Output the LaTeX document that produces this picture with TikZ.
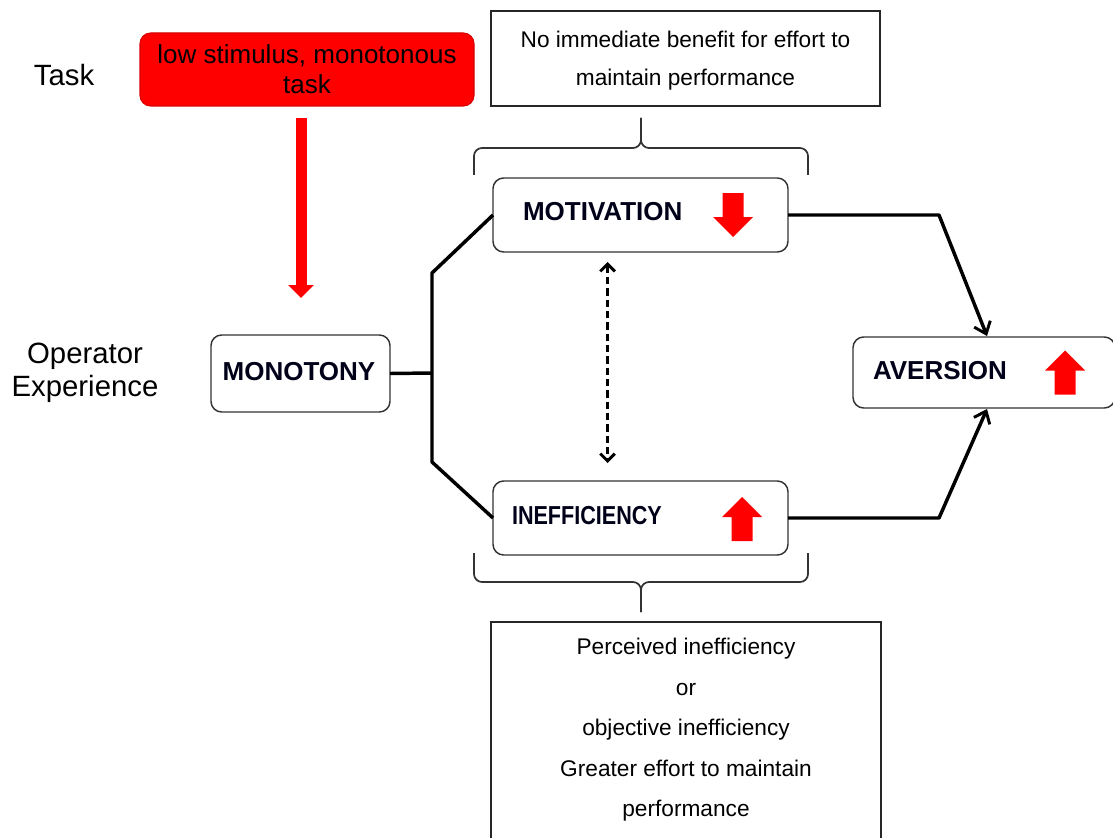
\documentclass[tikz,border=0pt]{standalone}
\usepackage{fontspec}
\setmainfont{Liberation Sans}
\usetikzlibrary{arrows.meta,calc}
\newcommand\pxu{0.75pt}

\tikzset{
  every node/.style={inner sep=0pt, outer sep=0pt},
  sidelabel/.style={font=\fontsize{22}{25}\selectfont, align=center},
  taskbox/.style={draw=red!85!black, line width=0.8pt, fill=red, rounded corners=8pt,
    minimum width=334*\pxu, minimum height=73*\pxu, align=center,
    font=\fontsize{19.5}{22.5}\selectfont},
  statebox/.style={draw=black!80, line width=1.1pt, rounded corners=8pt, fill=white},
  notebox/.style={draw=black!85, line width=1.1pt, fill=white},
  boldlabel/.style={font=\fontsize{19.5}{22}\selectfont\bfseries, text=black!90!blue},
  notetext/.style={font=\fontsize{17}{28.5}\selectfont, align=center},
  link/.style={line width=2.6pt, line join=round},
  flow/.style={link, -{Straight Barb[length=8pt,width=13pt,line width=2.2pt]}},
  mutual/.style={line width=2.6pt, dash pattern=on 5.5pt off 3pt,
    {Straight Barb[length=5.5pt,width=11pt,line width=2.2pt]}-{Straight Barb[length=5.5pt,width=11pt,line width=2.2pt]}},
  causal/.style={red, line width=8.25pt, -{Triangle[length=9.75pt,width=18.75pt]}},
  bracket/.style={draw=black!80, line width=1.3pt, rounded corners=6pt},
  blockup/.pic={\fill[red] (-10.5,22) -- (-10.5,-2) -- (-20,-2) -- (0,-22) -- (20,-2) -- (10.5,-2) -- (10.5,22) -- cycle;},
  blockdown/.pic={\fill[red] (-10.5,-22) -- (-10.5,2) -- (-20,2) -- (0,22) -- (20,2) -- (10.5,2) -- (10.5,-22) -- cycle;}
}

\begin{document}
\begin{tikzpicture}[x=0.75pt,y=-0.75pt]
\useasboundingbox (0,0) rectangle (1113,838);

% row labels
\node[sidelabel] (tasklbl) at (64,75) {Task};
\node[sidelabel] (explbl) at (85,373) {Operator\\Experience};

% task box and its effect
\node[taskbox] (task) at (307,69.5) {low stimulus, monotonous\\task};
\draw[causal] ($(task.south)+(-6,12)$) -- ++(0,180);

% note boxes
\node[notebox, minimum width=389*\pxu, minimum height=95*\pxu] (topnote) at (685.5,58.5) {};
\node[notetext] (toptext) at (685.5,61) {No immediate benefit for effort to\\maintain performance};
\node[notebox, minimum width=390*\pxu, minimum height=230*\pxu] (botnote) at (686,737) {};
\node[notetext, font=\fontsize{17}{30.4}\selectfont] (bottext) at (686,730)
  {Perceived inefficiency\\or\\objective inefficiency\\Greater effort to maintain\\performance};

% state boxes
\node[statebox, minimum width=179*\pxu, minimum height=77*\pxu] (mono) at (300.5,373.5) {};
\node[boldlabel] (monotxt) at (299,372) {MONOTONY};

\node[statebox, minimum width=295*\pxu, minimum height=74*\pxu] (mot) at (640.5,215) {};
\node[boldlabel, anchor=west] (mottxt) at (523,212) {MOTIVATION};
\pic at ($(mot.east)+(-55,0)$) {blockdown};

\node[statebox, minimum width=295*\pxu, minimum height=74*\pxu] (ineff) at (640.5,518) {};
\node[boldlabel, anchor=west] (inefftxt) at (512,516) {\scalebox{0.83}[1]{INEFFICIENCY}};
\pic at ($(ineff.east)+(-46,1)$) {blockup};

\node[statebox, minimum width=262*\pxu, minimum height=71*\pxu] (aver) at (984,372.5) {};
\node[boldlabel, anchor=west] (avertxt) at (873,371) {AVERSION};
\pic at ($(aver.center)+(81,0)$) {blockup};

% braces
\draw[bracket] (474,175) -- (474,148) -- (641,148) -- (641,118);
\draw[bracket] (808,175) -- (808,148) -- (641,148) -- (641,118);
\draw[bracket] (474,553) -- (474,582) -- (641,582) -- (641,612);
\draw[bracket] (808,553) -- (808,582) -- (641,582) -- (641,612);

% connectors
\coordinate (split) at (432,373);
\draw[link] (mono.east) -- (split);
\draw[link] (mot.west) -- (split |- 0,273) -- (split |- 0,462) -- (ineff.west);
\draw[flow] (mot.east) -- ++(151,0) -- ($(aver.north)+(3,-1)$);
\draw[flow] (ineff.east) -- ++(151,0) -- ($(aver.south)+(3,1)$);
\draw[mutual] ($(mot.south)+(-33,10)$) -- ($(ineff.north)+(-33,-18)$);
\end{tikzpicture}
\end{document}
